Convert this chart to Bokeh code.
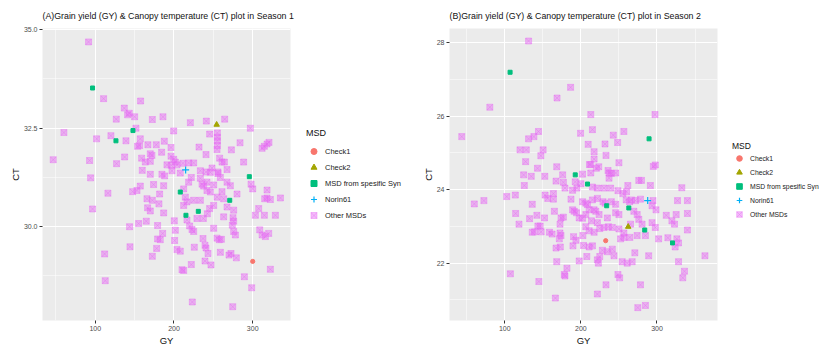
from bokeh.plotting import figure
from bokeh.models import Range1d, FixedTicker, Legend, LegendItem
from bokeh.layouts import row
from bokeh.embed import file_html
from bokeh.resources import INLINE

# ---------------- Season 1 data ----------------
A_other_gy = [91.5,110.6,157.6,136.9,141.1,143.2,150.0,186.0,126.7,172.5,264.4,241.1,220.8,151.7,297.0,199.6,60.2,245.3,255.1,119.9,255.1,101.7,157.2,139.0,255.1,187.7,283.9,320.7,318.2,177.5,166.9,156.4,153.8,255.1,314.8,231.8,196.2,311.9,254.7,272.9,184.3,169.9,172.0,240.7,196.2,137.3,158.9,199.6,258.0,46.6,92.8,163.6,169.9,201.7,261.0,264.0,288.5,127.1,191.1,196.6,203.8,211.4,218.6,225.0,248.3,267.4,159.7,240.7,255.9,255.9,
              197.5,208.0,233.5,246.2,169.9,184.7,188.1,94.1,258.9,222.0,233.5,
              297.9,157.2,186.9,218.6,235.6,241.9,250.4,267.4,271.6,174.1,237.7,
              147.5,153.0,116.1,300.0,318.2,241.9,246.2,261.0,280.1,181.8,212.3,
              165.7,172.5,214.4,216.5,315.2,318.2,322.4,335.2,225.0,233.5,254.7,263.1,
              180.9,166.5,169.9,212.3,245.3,242.4,186.9,307.6,267.4,275.8,250.4,
              303.4,314.8,328.8,237.3,275.0,275.8,164.8,200.4,216.5,96.6,263.1,229.2,
              155.1,179.2,143.6,274.1,219.9,222.9,225.0,201.7,308.9,320.3,250.4,275.8,
              185.6,311.9,316.1,179.2,182.6,200.8,236.9,254.7,257.6,260.2,278.0,
              144.1,178.0,225.8,239.4,240.7,203.8,208.0,258.9,243.2,111.9,269.9,272.4,172.5,
              279.2,239.4,222.0,247.0,322.4,210.2,212.3,
              289.4,112.7,298.7,223.3,274.6]
A_other_ct = [34.69,33.25,33.19,33.01,32.84,32.88,32.79,32.79,32.73,32.72,32.73,32.68,32.64,32.50,32.50,32.43,32.39,32.35,32.38,32.31,32.27,32.23,32.23,32.18,32.18,32.17,32.13,32.14,32.10,32.08,32.08,32.06,32.04,32.06,32.04,32.02,32.01,31.99,31.96,31.95,31.89,31.85,31.81,31.83,31.79,31.77,31.74,31.71,31.74,31.70,31.68,31.64,31.66,31.64,31.64,31.64,31.64,31.60,31.57,31.56,31.57,31.61,31.62,31.62,31.49,31.45,31.43,31.39,31.39,31.35,
              31.42,31.36,31.42,31.38,31.33,31.33,31.29,31.24,31.25,31.25,31.23,
              31.08,31.03,31.04,31.13,31.08,31.13,31.06,31.13,31.04,31.07,31.03,
              30.89,30.92,30.85,30.96,30.93,30.92,30.88,30.89,30.83,30.83,30.96,
              30.71,30.67,30.75,30.63,30.71,30.73,30.69,30.73,30.67,30.67,30.75,30.71,
              30.58,30.48,30.40,30.54,30.46,30.33,30.35,30.46,30.50,30.42,30.54,
              30.29,30.29,30.29,30.21,30.23,30.14,30.14,30.15,30.17,30.45,30.25,30.21,
              30.08,30.03,30.00,30.04,30.02,29.93,29.88,29.91,29.92,29.83,29.96,29.88,
              29.83,29.79,29.75,29.69,29.67,29.65,29.70,29.71,29.67,29.68,29.79,
              29.49,29.45,29.48,29.53,29.46,29.42,29.38,29.35,29.32,29.31,29.28,29.32,29.25,
              29.21,29.13,29.04,29.03,28.92,28.91,28.89,
              28.73,28.63,28.45,28.09,27.97]
A_check1_gy = [300.0]
A_check1_ct = [29.12]
A_check2_gy = [254.2]
A_check2_ct = [32.59]
A_syn_gy = [96.6, 147.9, 126.3, 208.0, 215.2, 230.9, 270.8, 295.7]
A_syn_ct = [33.52, 32.44, 32.18, 30.88, 30.29, 30.39, 30.67, 31.27]
A_norin_gy = [214.8]
A_norin_ct = [31.44]

# ---------------- Season 2 data ----------------
B_other_gy = [131.3,186.5,168.7,80.4,213.0,297.4,43.5,144.3,138.3,131.3,215.2,199.6,242.6,256.5,248.3,231.7,209.6,120.0,128.3,150.4,147.4,217.4,233.0,127.4,217.4,250.0,211.3,213.0,220.4,223.5,168.3,143.0,235.7,240.0,295.2,297.8,
              124.8,134.8,152.6,176.1,202.2,213.0,237.0,245.7,167.4,177.0,192.6,200.0,237.0,261.7,276.1,279.6,291.3,332.6,125.7,163.9,179.1,189.1,194.8,215.2,221.7,230.4,239.1,248.7,255.2,260.0,
              60.0,72.6,102.6,113.9,136.1,153.0,156.5,163.9,187.0,202.2,206.5,208.7,215.2,221.7,229.1,231.7,240.0,245.7,259.6,264.0,266.5,271.7,278.3,294.8,293.5,298.7,327.0,340.0,325.2,340.0,
              114.3,142.2,152.2,132.6,118.7,143.5,146.5,136.1,139.1,147.8,158.7,162.2,172.6,165.2,173.9,177.0,172.6,189.1,191.3,194.3,197.8,202.2,206.5,210.9,217.4,219.6,223.9,213.9,221.7,234.8,245.7,250.0,269.6,274.0,276.1,280.4,312.2,319.6,323.0,340.0,
              206.5,210.9,217.4,224.8,230.4,236.1,241.3,250.0,256.5,256.5,273.9,284.8,302.2,314.3,326.1,328.3,323.9,202.6,190.4,193.5,173.9,171.7,167.4,173.0,189.6,203.5,210.9,215.2,228.3,234.8,241.3,
              221.7,223.0,224.8,207.8,197.8,168.3,181.7,178.3,179.1,107.4,144.8,166.5,221.7,233.0,243.5,248.7,250.9,254.3,260.9,267.4,270.9,278.3,289.1,274.8,284.8,328.3,336.1,333.9,363.0,265.2,293.5,297.8,252.2,264.3]
B_other_ct = [28.04,26.78,26.49,26.24,26.04,26.04,25.44,25.58,25.44,25.38,25.63,25.53,25.48,25.58,25.28,25.24,25.23,25.08,25.08,25.08,24.92,25.03,24.93,24.76,24.83,24.73,24.68,24.68,24.58,24.62,24.62,24.58,24.52,24.44,24.63,24.67,
              24.40,24.36,24.36,24.40,24.42,24.45,24.45,24.45,24.23,24.20,24.21,24.16,24.31,24.11,24.25,24.25,24.11,24.05,24.11,23.89,24.04,23.98,24.04,24.07,24.04,24.04,24.04,23.97,23.89,23.94,
              23.61,23.70,23.81,23.85,23.60,23.85,23.76,23.74,23.74,23.67,23.63,23.59,23.72,23.76,23.67,23.63,23.67,23.60,23.72,23.67,23.72,23.70,23.74,23.70,23.56,23.45,23.70,23.70,23.32,23.35,
              23.35,23.30,23.23,23.21,23.06,23.01,23.01,22.84,22.85,22.85,22.84,22.79,22.82,23.41,23.23,23.25,23.06,23.45,23.41,23.37,23.23,23.22,23.32,23.45,23.45,23.41,23.32,23.15,23.10,23.23,23.37,23.32,23.41,23.32,23.19,23.06,23.30,23.15,23.06,22.90,
              22.99,22.88,22.84,22.94,22.97,22.99,22.97,22.93,22.82,22.70,22.75,22.75,22.66,22.69,22.66,22.55,22.44,22.75,22.72,22.62,22.75,22.66,22.41,22.44,22.47,22.48,22.44,22.47,22.35,22.31,22.38,
              22.09,22.00,22.18,22.18,22.06,22.04,21.86,21.69,21.65,21.71,21.50,21.05,21.16,21.41,22.20,21.69,21.60,22.04,22.00,22.04,22.28,21.41,22.20,20.79,20.85,22.04,21.78,21.60,22.20,23.06,23.10,22.97,22.66,22.70]
B_check1_gy = [232.6]
B_check1_ct = [22.61]
B_check2_gy = [262.2]
B_check2_ct = [22.99]
B_syn_gy = [107.0, 289.6, 192.6, 208.7, 233.9, 263.0, 283.9, 320.4]
B_syn_ct = [27.19, 25.38, 24.40, 24.15, 23.56, 23.50, 22.90, 22.55]
B_norin_gy = [287.8]
B_norin_ct = [23.70]

categories = ["Check1", "Check2", "MSD from spesific Syn", "Norin61", "Other MSDs"]
colors = ["#F8766D", "#A3A500", "#00BF7D", "#00B0F6", "#E76BF3"]

FONT = "Liberation Sans"
H = 348

STYLES = [
    dict(marker="circle", size=4.2, fill_color=colors[0], line_color=colors[0]),
    dict(marker="triangle", size=5.5, fill_color=colors[1], line_color=colors[1]),
    dict(marker="square", size=4, fill_color=colors[2], line_color=colors[2]),
    dict(marker="cross", size=7, fill_color=None, line_color=colors[3], line_width=1.2),
    dict(marker="square_x", size=6, fill_color=colors[4], fill_alpha=0.45,
         line_color=colors[4], line_alpha=0.4, line_width=1),
]


def panel(title, series, xr, yr, xt, xm, yt, ym, ylab_over, width, mleft, mright):
    p = figure(width=width, height=H, x_range=Range1d(*xr), y_range=Range1d(*yr),
               output_backend="svg", toolbar_location=None,
               min_border_left=mleft, min_border_right=mright,
               min_border_top=28, min_border_bottom=25)
    p.background_fill_color = "#EBEBEB"
    p.border_fill_color = "white"
    p.outline_line_color = None
    p.title.text = title
    p.title.text_font = FONT
    p.title.text_font_size = "8.8px"
    p.title.text_font_style = "normal"
    p.title.text_color = "#111111"
    p.title.align = "left"
    p.title.standoff = 15

    p.xaxis.ticker = FixedTicker(ticks=xt, minor_ticks=xm)
    p.yaxis.ticker = FixedTicker(ticks=yt, minor_ticks=ym)
    if ylab_over:
        p.yaxis.major_label_overrides = ylab_over
    for ax in (p.xaxis, p.yaxis):
        ax.axis_line_color = None
        ax.major_tick_line_color = "#333333"
        ax.major_tick_out = 3
        ax.major_tick_in = 0
        ax.minor_tick_line_color = None
        ax.major_label_text_font = FONT
        ax.major_label_text_font_size = "7px"
        ax.major_label_text_color = "#4D4D4D"
        ax.major_label_standoff = 1
        ax.axis_label_text_font = FONT
        ax.axis_label_text_font_size = "9.5px"
        ax.axis_label_text_font_style = "normal"
        ax.axis_label_text_color = "#111111"
        ax.axis_label_standoff = 1
    p.yaxis.axis_label_standoff = 0
    p.xaxis.axis_label = "GY"
    p.yaxis.axis_label = "CT"

    for g in (p.xgrid, p.ygrid):
        g.grid_line_color = "white"
        g.grid_line_width = 1.1
        g.minor_grid_line_color = "white"
        g.minor_grid_line_width = 0.5

    # "Other MSDs" first, highlighted groups on top
    p.scatter(series[4][0], series[4][1], **STYLES[4])
    for data, st in zip(series[:4], STYLES[:4]):
        p.scatter(data[0], data[1], **st)
    return p


def legend_fig(series, width, loc, font, tfont, tstand, gw, gh):
    # legend-only panel; the series lie outside its (0, 1) ranges
    lf = figure(width=width, height=H, x_range=Range1d(0, 1), y_range=Range1d(0, 1),
                output_backend="svg", toolbar_location=None, min_border=0)
    lf.axis.visible = False
    lf.grid.visible = False
    lf.outline_line_color = None
    lf.background_fill_color = "white"
    rends = [lf.scatter(d[0], d[1], **st) for d, st in zip(series, STYLES)]
    items = [LegendItem(label=c, renderers=[r]) for c, r in zip(categories, rends)]
    lg = Legend(items=items, title="MSD", location=loc,
                label_text_font=FONT, label_text_font_size=font,
                label_text_color="#222222", label_standoff=4,
                title_text_font=FONT, title_text_font_size=tfont,
                title_text_font_style="normal", title_text_color="#111111",
                title_standoff=tstand,
                glyph_width=gw, glyph_height=gh, label_height=gh,
                spacing=0, padding=0, margin=0,
                border_line_color=None, background_fill_alpha=0)
    lf.add_layout(lg, "center")
    return lf


A_series = [(A_check1_gy, A_check1_ct), (A_check2_gy, A_check2_ct), (A_syn_gy, A_syn_ct),
            (A_norin_gy, A_norin_ct), (A_other_gy, A_other_ct)]
B_series = [(B_check1_gy, B_check1_ct), (B_check2_gy, B_check2_ct), (B_syn_gy, B_syn_ct),
            (B_norin_gy, B_norin_ct), (B_other_gy, B_other_ct)]

pA = panel("(A)Grain yield (GY) & Canopy temperature (CT) plot in Season 1", A_series,
           (33.0, 348.0), (27.62, 35.03),
           [100, 200, 300], [50, 150, 250],
           [30.0, 32.5, 35.0], [28.75, 31.25, 33.75],
           {30.0: "30.0", 32.5: "32.5", 35.0: "35.0"},
           298, 42, 8)
lA = legend_fig(A_series, 112, (8, 97), "7.5px", "9px", 5, 15, 16)

pB = panel("(B)Grain yield (GY) & Canopy temperature (CT) plot in Season 2", B_series,
           (27.4, 379.5), (20.44, 28.38),
           [100, 200, 300], [50, 150, 250, 350],
           [22, 24, 26, 28], [21, 23, 25, 27],
           None,
           311, 39, 4)
lB = legend_fig(B_series, 103, (11, 99), "6.8px", "8.5px", 0, 14, 14)

layout = row(pA, lA, pB, lB, spacing=0)
open("out.html", "w").write(file_html(layout, INLINE))
